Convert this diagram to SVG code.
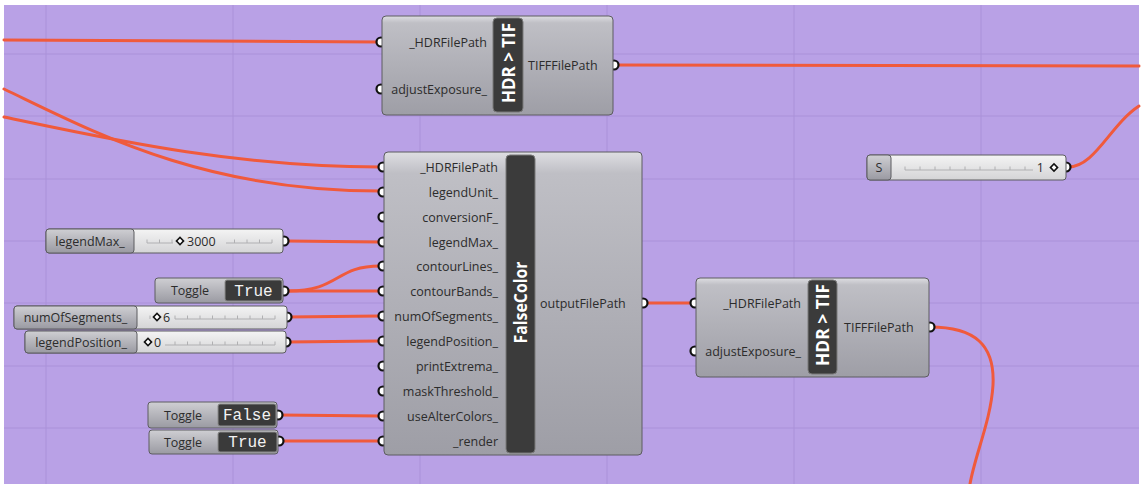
<svg xmlns="http://www.w3.org/2000/svg" width="1148" height="484" viewBox="0 0 1148 484">
<defs>
<linearGradient id="gBody" x1="0" y1="0" x2="0" y2="1">
<stop offset="0" stop-color="#dedee2"/>
<stop offset="0.07" stop-color="#bfbfc5"/>
<stop offset="1" stop-color="#9e9ea6"/>
</linearGradient>
<linearGradient id="gLab" x1="0" y1="0" x2="0" y2="1">
<stop offset="0" stop-color="#cfcfd3"/>
<stop offset="0.5" stop-color="#b4b4ba"/>
<stop offset="1" stop-color="#9a9aa2"/>
</linearGradient>
<linearGradient id="gTrack" x1="0" y1="0" x2="0" y2="1">
<stop offset="0" stop-color="#f4f4f4"/>
<stop offset="1" stop-color="#d4d4d6"/>
</linearGradient>
<style>
.wire{fill:none;stroke:#f05a3c;stroke-width:3;stroke-linecap:round}
.grip{fill:#fff;stroke:#111;stroke-width:2.2}
.body{fill:url(#gBody);stroke:#5c5c60;stroke-width:1}
.band{fill:#3b3b3b;stroke:#7a7a7a;stroke-width:1}
.lbl{font-family:"Open Sans","Noto Sans",sans-serif;font-size:12.5px;fill:#2c2c2c}
.rot{font-family:"Open Sans","Noto Sans",sans-serif;font-weight:bold;font-size:17px;fill:#fff}
.grid{stroke:#aa91d9;stroke-width:1}
.lab{fill:url(#gLab);stroke:#5c5c60;stroke-width:1}
.track{fill:url(#gTrack);stroke:#5c5c60;stroke-width:1}
.tick{fill:none;stroke:#b0b0b2;stroke-width:1}
.dia{fill:#fff;stroke:#111;stroke-width:1.6}
.tbox{fill:#3a3a3a;stroke:#8c8c8c;stroke-width:1}
.mono{font-family:"Liberation Mono","DejaVu Sans Mono",monospace;font-size:16px;fill:#f2f2f2}
</style>
</defs>
<rect x="0" y="0" width="1148" height="484" fill="#ffffff"/>
<rect x="4" y="5" width="1135" height="479" fill="#b9a1e6"/>
<g id="grid">
<path class="grid" d="M46,5V484M233,5V484M420,5V484M607,5V484M794,5V484M981,5V484M4,54H1139M4,116H1139M4,179H1139M4,241H1139M4,303H1139M4,366H1139M4,428H1139"/>
</g>
<g id="connectors">
<path class="wire" d="M4,40 L380,42"/>
<path class="wire" d="M4,89 C90,130 200,191 380,191"/>
<path class="wire" d="M4,117 C100,137 230,167 380,167"/>
<path class="wire" d="M614,65 L1139,66"/>
<path class="wire" d="M1068,167 C1095,167 1110,125 1139,106"/>
<path class="wire" d="M287,241 L380,242"/>
<path class="wire" d="M288,291 L380,291"/>
<path class="wire" d="M288,291 C340,291 335,266 380,266"/>
<path class="wire" d="M287,317 L380,316"/>
<path class="wire" d="M287,342 L380,341"/>
<path class="wire" d="M280,415 L380,416"/>
<path class="wire" d="M280,441 L380,441"/>
<path class="wire" d="M643,303 L695,303"/>
<path class="wire" d="M930,327 C975,327 995,345 993,385 C991,420 975,455 970,484"/>
</g>
<g id="hdr2tif-top">
<circle class="grip" cx="381" cy="42" r="4.5"/>
<circle class="grip" cx="381" cy="89" r="4.5"/>
<circle class="grip" cx="614" cy="65" r="4.5"/>
<rect class="body" x="382" y="16" width="231" height="99" rx="4"/>
<rect class="band" x="493" y="18" width="30" height="94" rx="4"/>
<text class="rot" transform="translate(515,63) rotate(-90)" text-anchor="middle" textLength="80" lengthAdjust="spacingAndGlyphs">HDR &gt; TIF</text>
<text class="lbl" x="487" y="46.5" text-anchor="end">_HDRFilePath</text>
<text class="lbl" x="487" y="93.5" text-anchor="end">adjustExposure_</text>
<text class="lbl" x="528" y="69.5">TIFFFilePath</text>
</g>
<g id="falsecolor">
<circle class="grip" cx="383" cy="167" r="4.5"/>
<circle class="grip" cx="383" cy="192" r="4.5"/>
<circle class="grip" cx="383" cy="217" r="4.5"/>
<circle class="grip" cx="383" cy="242" r="4.5"/>
<circle class="grip" cx="383" cy="266" r="4.5"/>
<circle class="grip" cx="383" cy="291" r="4.5"/>
<circle class="grip" cx="383" cy="316" r="4.5"/>
<circle class="grip" cx="383" cy="341" r="4.5"/>
<circle class="grip" cx="383" cy="366" r="4.5"/>
<circle class="grip" cx="383" cy="391" r="4.5"/>
<circle class="grip" cx="383" cy="416" r="4.5"/>
<circle class="grip" cx="383" cy="441" r="4.5"/>
<circle class="grip" cx="643" cy="303" r="4.5"/>
<rect class="body" x="384" y="152" width="258" height="303" rx="4"/>
<rect class="band" x="506" y="155" width="29" height="298" rx="4"/>
<text class="rot" transform="translate(527,302.5) rotate(-90)" text-anchor="middle" textLength="82" lengthAdjust="spacingAndGlyphs">FalseColor</text>
<text class="lbl" x="498" y="171.5" text-anchor="end">_HDRFilePath</text>
<text class="lbl" x="498" y="196.5" text-anchor="end">legendUnit_</text>
<text class="lbl" x="498" y="221.5" text-anchor="end">conversionF_</text>
<text class="lbl" x="498" y="246.5" text-anchor="end">legendMax_</text>
<text class="lbl" x="498" y="270.5" text-anchor="end">contourLines_</text>
<text class="lbl" x="498" y="295.5" text-anchor="end">contourBands_</text>
<text class="lbl" x="498" y="320.5" text-anchor="end">numOfSegments_</text>
<text class="lbl" x="498" y="345.5" text-anchor="end">legendPosition_</text>
<text class="lbl" x="498" y="370.5" text-anchor="end">printExtrema_</text>
<text class="lbl" x="498" y="395.5" text-anchor="end">maskThreshold_</text>
<text class="lbl" x="498" y="420.5" text-anchor="end">useAlterColors_</text>
<text class="lbl" x="498" y="445.5" text-anchor="end">_render</text>
<text class="lbl" x="540" y="307.5">outputFilePath</text>
</g>
<g id="hdr2tif-right">
<circle class="grip" cx="695" cy="303" r="4.5"/>
<circle class="grip" cx="695" cy="351" r="4.5"/>
<circle class="grip" cx="930" cy="327" r="4.5"/>
<rect class="body" x="696" y="278" width="233" height="99" rx="4"/>
<rect class="band" x="808" y="280" width="29" height="94" rx="4"/>
<text class="rot" transform="translate(829,325) rotate(-90)" text-anchor="middle" textLength="82" lengthAdjust="spacingAndGlyphs">HDR &gt; TIF</text>
<text class="lbl" x="801" y="307.5" text-anchor="end">_HDRFilePath</text>
<text class="lbl" x="801" y="355.5" text-anchor="end">adjustExposure_</text>
<text class="lbl" x="844" y="331.5">TIFFFilePath</text>
</g>
<g id="slider-legendMax">
<circle class="grip" cx="284" cy="241" r="4.5"/>
<rect class="track" x="46" y="229" width="237" height="24" rx="3"/>
<rect class="lab" x="46" y="229" width="88" height="24" rx="3"/>
<path class="tick" d="M147,243H173M226,243H272M147,243v-3.5M159.5,243v-3.5M172,243v-3.5M234.5,243v-3.5M247,243v-3.5M259.5,243v-3.5M272,243v-3.5"/>
<rect class="dia" x="177.5" y="238.5" width="5" height="5" transform="rotate(45 180 241)"/>
<text class="lbl" x="90" y="245.5" text-anchor="middle">legendMax_</text>
<text class="lbl" x="187" y="245.5">3000</text>
</g>
<g id="toggle-contour">
<circle class="grip" cx="284" cy="291" r="4.5"/>
<rect class="lab" x="155" y="278" width="128" height="25" rx="3"/>
<rect class="tbox" x="225" y="280" width="57" height="21" rx="2"/>
<text class="lbl" x="190" y="295" text-anchor="middle">Toggle</text>
<text class="mono" x="253.5" y="295.5" text-anchor="middle">True</text>
</g>
<g id="slider-numOfSegments">
<circle class="grip" cx="287" cy="317" r="4.5"/>
<rect class="track" x="14" y="306" width="273" height="23" rx="3"/>
<rect class="lab" x="14" y="306" width="123" height="23" rx="3"/>
<path class="tick" d="M150,319v-3.5M175,319H275M175,319v-3.5M187.5,319v-3.5M200,319v-3.5M212.5,319v-3.5M225,319v-3.5M237.5,319v-3.5M250,319v-3.5M262.5,319v-3.5M275,319v-3.5"/>
<rect class="dia" x="154.5" y="314.5" width="5" height="5" transform="rotate(45 157 317)"/>
<text class="lbl" x="75.5" y="321.5" text-anchor="middle">numOfSegments_</text>
<text class="lbl" x="163" y="321.5">6</text>
</g>
<g id="slider-legendPosition">
<circle class="grip" cx="286" cy="342" r="4.5"/>
<rect class="track" x="25" y="331" width="261" height="22" rx="3"/>
<rect class="lab" x="25" y="331" width="112" height="22" rx="3"/>
<path class="tick" d="M165,345H275M175,345v-3.5M187.5,345v-3.5M200,345v-3.5M212.5,345v-3.5M225,345v-3.5M237.5,345v-3.5M250,345v-3.5M262.5,345v-3.5M275,345v-3.5"/>
<rect class="dia" x="145.5" y="339.5" width="5" height="5" transform="rotate(45 148 342)"/>
<text class="lbl" x="81" y="346.5" text-anchor="middle">legendPosition_</text>
<text class="lbl" x="154" y="346.5">0</text>
</g>
<g id="toggle-alterColors">
<circle class="grip" cx="278" cy="415" r="4.5"/>
<rect class="lab" x="148" y="402" width="129" height="26" rx="3"/>
<rect class="tbox" x="218" y="404" width="58" height="22" rx="2"/>
<text class="lbl" x="183" y="419.5" text-anchor="middle">Toggle</text>
<text class="mono" x="247" y="420" text-anchor="middle">False</text>
</g>
<g id="toggle-render">
<circle class="grip" cx="279" cy="441" r="4.5"/>
<rect class="lab" x="149" y="430" width="129" height="24" rx="3"/>
<rect class="tbox" x="218" y="432" width="59" height="20" rx="2"/>
<text class="lbl" x="183" y="446.5" text-anchor="middle">Toggle</text>
<text class="mono" x="247.5" y="447" text-anchor="middle">True</text>
</g>
<g id="slider-S">
<circle class="grip" cx="1066" cy="167" r="4.5"/>
<rect class="track" x="867" y="155" width="199" height="25" rx="3"/>
<rect class="lab" x="867" y="155" width="24" height="25" rx="3"/>
<path class="tick" d="M905,170H1033M905,170v-3.5M920,170v-3.5M935,170v-3.5M950,170v-3.5M965,170v-3.5M980,170v-3.5M995,170v-3.5M1010,170v-3.5M1025,170v-3.5"/>
<rect class="dia" x="1051.5" y="165" width="5" height="5" transform="rotate(45 1054 167.5)"/>
<text class="lbl" x="879" y="172" text-anchor="middle">S</text>
<text class="lbl" x="1044" y="172" text-anchor="end">1</text>
</g>
</svg>
